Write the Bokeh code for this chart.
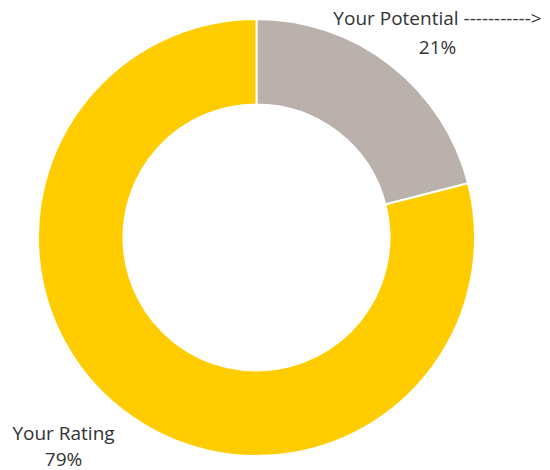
import math
from bokeh.plotting import figure
from bokeh.models import Range1d, ColumnDataSource
from bokeh.core.properties import value
from bokeh.embed import file_html
from bokeh.resources import INLINE

categories = ["Your Potential", "Your Rating"]
shares = [21, 79]
colors = ["#BAB0AC", "#FFCC00"]
label_titles = ["Your Potential ----------->", "Your Rating"]

W, H = 550, 470
p = figure(width=W, height=H, output_backend="svg", toolbar_location=None,
           x_range=Range1d(0, W), y_range=Range1d(0, H), min_border=0)
p.axis.visible = False
p.grid.visible = False
p.outline_line_color = None
p.background_fill_color = "white"
p.border_fill_color = "white"

cx, cy = 256, 233
r_out, r_in = 218.5, 133

total = sum(shares)
starts, ends = [], []
cum = 0
for s in shares:
    a0 = math.pi / 2 - (cum + s) / total * 2 * math.pi
    a1 = math.pi / 2 - cum / total * 2 * math.pi
    starts.append(a0)
    ends.append(a1)
    cum += s

src = ColumnDataSource(dict(cat=categories, share=shares, color=colors,
                            start=starts, end=ends))
p.annular_wedge(x=cx, y=cy, inner_radius=r_in, outer_radius=r_out,
                start_angle="start", end_angle="end", fill_color="color",
                line_color="white", line_width=2, source=src)

pcts = [f"{s}%" for s in shares]
lx = [437, 63]
ly1 = [453, 38]
ly2 = [424, 12]
p.text(x=lx, y=ly1, text=label_titles, text_align="center", text_baseline="middle",
       text_font=value("Open Sans"), text_font_size="19px", text_color="#333333")
p.text(x=lx, y=ly2, text=pcts, text_align="center", text_baseline="middle",
       text_font=value("Open Sans"), text_font_size="19px", text_color="#333333")

open("out.html", "w").write(file_html(p, INLINE))
